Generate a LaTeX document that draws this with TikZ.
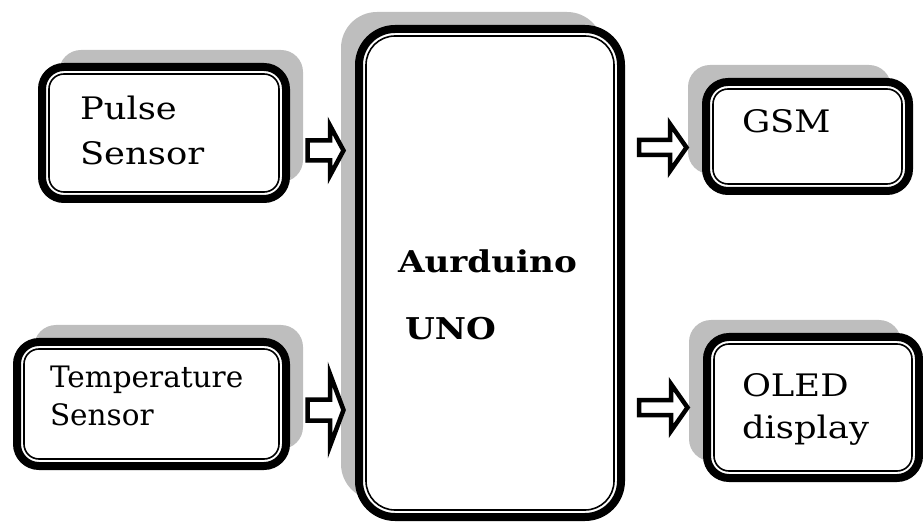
\documentclass[tikz,border=0pt]{standalone}
\usepackage{fontspec}
\setmainfont{DejaVu Serif}
\newfontfamily\wideserif{DejaVu Serif}[FakeStretch=1.14]
\usetikzlibrary{positioning,calc,shadows}

\definecolor{shadowgray}{RGB}{190,190,190}

\tikzset{
  tailgap/.store in=\tailgap, tailgap=14pt,
  tipgap/.store in=\tipgap, tipgap=15.5pt,
  ydrop/.store in=\ydrop, ydrop=0pt,
  shafthalf/.store in=\shafthalf, shafthalf=7.5pt,
  headhalf/.store in=\headhalf, headhalf=23.5pt,
  headlen/.store in=\headlen, headlen=16.5pt,
  blockarrow/.style={draw, fill=white, line width=4.5pt, line join=miter,
    to path={let \p1=(\tikztostart), \p2=(\tikztotarget) in
      (\x1+\tailgap,\y1+\ydrop+\shafthalf) -- (\x2-\tipgap-\headlen,\y1+\ydrop+\shafthalf)
      -- (\x2-\tipgap-\headlen,\y1+\ydrop+\headhalf) -- (\x2-\tipgap,\y1+\ydrop)
      -- (\x2-\tipgap-\headlen,\y1+\ydrop-\headhalf) -- (\x2-\tipgap-\headlen,\y1+\ydrop-\shafthalf)
      -- (\x1+\tailgap,\y1+\ydrop-\shafthalf) -- cycle}},
  block/.style={draw, fill=white, line width=8pt, rounded corners=#1, inner sep=0pt, align=left,
    path picture={\draw[line width=1.6pt, rounded corners=#1-7pt]
      ([shift={(7pt,7pt)}]path picture bounding box.south west) rectangle
      ([shift={(-7pt,-7pt)}]path picture bounding box.north east);}},
  block/.default=22pt,
  leftshadow/.style={drop shadow={shadow xshift=17pt, shadow yshift=17pt, fill=shadowgray, opacity=1}},
  rightshadow/.style={drop shadow={shadow xshift=-18pt, shadow yshift=17pt, fill=shadowgray, opacity=1}}
}

\begin{document}
\begin{tikzpicture}[x=1pt, y=1pt]
  \useasboundingbox (0,0) rectangle (923,525);

  % controller in the middle
  \node[block=36pt, rightshadow, minimum width=262pt, minimum height=488pt,
        text width=184pt, text height=67pt, text depth=67pt,
        font=\wideserif\bfseries\fontsize{30}{67}\selectfont] (uno) at (490,252) {Aurduino\\\hspace*{7pt}UNO};

  % sensors
  \node[block, leftshadow, minimum width=244pt, minimum height=132pt,
        text width=168pt, text height=19pt, text depth=45pt,
        font=\wideserif\fontsize{31}{45}\selectfont] (pulse) at (164,392) {Pulse\\Sensor};
  \node[block, leftshadow, minimum width=269pt, minimum height=124pt,
        text width=203pt, text height=4pt, text depth=38pt,
        font=\fontsize{29.5}{38}\selectfont] (temp) at (151.5,121) {Temperature\\Sensor};

  % outputs
  \node[block, rightshadow, minimum width=203pt, minimum height=109pt,
        text width=131pt, text height=23pt, text depth=30pt,
        font=\wideserif\fontsize{31}{45}\selectfont] (gsm) at (807.5,388.5) {GSM};
  \node[block, rightshadow, minimum width=212pt, minimum height=141pt,
        text width=142pt, text height=26pt, text depth=49pt,
        font=\wideserif\fontsize{31}{42}\selectfont] (oled) at (813,117.5) {OLED\\display};

  \draw[blockarrow, ydrop=-17.5pt, tailgap=17.5pt, tipgap=11.5pt, shafthalf=10pt, headhalf=25pt, headlen=13.5pt] (pulse.east) to (uno.west);
  \draw[blockarrow, ydrop=-6pt, tailgap=17.5pt, tipgap=11.5pt, shafthalf=10.5pt, headhalf=36pt, headlen=13.5pt] (temp.east) to (uno.west);
  \draw[blockarrow, ydrop=-11pt] (uno.east |- gsm.west) to (gsm.west);
  \draw[blockarrow] (uno.east |- oled.west) to (oled.west);
\end{tikzpicture}
\end{document}
